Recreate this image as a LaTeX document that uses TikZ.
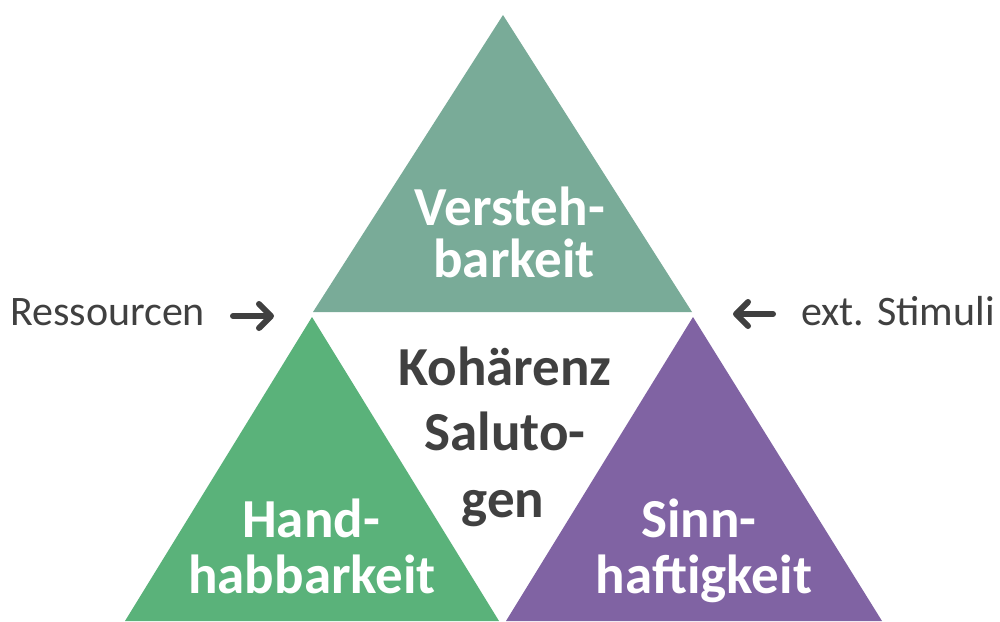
\documentclass[tikz,border=0pt]{standalone}
\usepackage{fontspec}
\setmainfont{Carlito}
\usetikzlibrary{arrows.meta}
\definecolor{topcol}{RGB}{121,171,152}
\definecolor{leftcol}{RGB}{90,178,122}
\definecolor{rightcol}{RGB}{128,99,163}
\definecolor{darktext}{RGB}{64,64,64}
\tikzset{
  bigw/.style={font=\fontsize{55}{55}\bfseries\selectfont, text=white, anchor=base, inner sep=0pt},
  bigd/.style={font=\fontsize{55}{55}\bfseries\selectfont, text=darktext, anchor=base, inner sep=0pt},
  side/.style={font=\fontsize{42}{42}\selectfont, text=darktext, anchor=base, inner sep=0pt},
  arr/.style={draw=darktext, line width=6pt, line cap=round, line join=round,
    -{Straight Barb[length=12pt, width=24pt, line width=6pt, round]}}
}
\begin{document}
\begin{tikzpicture}[x=1pt, y=-1pt]
\useasboundingbox (0,0) rectangle (1000,621);
\fill[white] (0,0) rectangle (1000,621);
% triangles
\fill[topcol] (503,15) -- (313,312) -- (692,312) -- cycle;
\fill[leftcol] (312,317) -- (125,621) -- (499,621) -- cycle;
\fill[rightcol] (693,317) -- (506,621) -- (882,621) -- cycle;
% texts
\node[bigw] (v1) at (510,225) {Versteh-};
\node[bigw] (v2) at (514,277) {barkeit};
\node[bigd] (k1) at (505,385) {Kohärenz};
\node[bigd] (k2) at (505,450) {Saluto-};
\node[bigd] (k3) at (503,517) {gen};
\node[bigw] (h1) at (311,537) {Hand-};
\node[bigw] (h2) at (312,593) {habbarkeit};
\node[bigw] (s1) at (699,537) {Sinn-};
\node[bigw] (s2) at (704,593) {haftigkeit};
\node[side, anchor=base west] (res) at (10,325) {Ressourcen};
\node[side, anchor=base east] (ext) at (995,325) {ext. Stimuli};
% arrows
\coordinate (ra) at (233,316);
\coordinate (rb) at (274,316);
\coordinate (ea) at (773,314);
\coordinate (eb) at (733,314);
\draw[arr] (ra) -- (rb);
\draw[arr] (ea) -- (eb);
\end{tikzpicture}
\end{document}
